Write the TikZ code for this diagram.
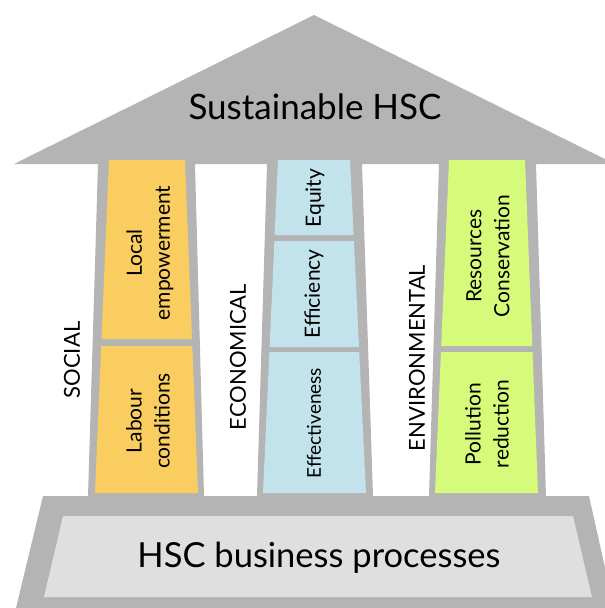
\documentclass[tikz,border=0pt]{standalone}
\usepackage{fontspec}
\setmainfont{Lato}
\definecolor{roofgray}{RGB}{180,180,180}
\definecolor{basegray}{RGB}{223,223,223}
\definecolor{socialorange}{RGB}{250,205,96}
\definecolor{ecoblue}{RGB}{195,227,236}
\definecolor{envgreen}{RGB}{214,250,122}
\tikzset{
  frame/.style={fill=roofgray},
  pillartext/.style={rotate=90, align=center, inner sep=0pt, font=\fontsize{21}{28}\selectfont},
  sidetext/.style={rotate=90, inner sep=0pt, font=\fontsize{22}{26}\selectfont},
}

\begin{document}
\begin{tikzpicture}[x=1pt, y=-1pt]
      \useasboundingbox (0,0) rectangle (605,608);
      % roof
      \fill[roofgray] (14,164) -- (314,15) -- (615,164) -- cycle;
      \node[font=\fontsize{35}{40}\selectfont] (roof) at (315,107) {Sustainable HSC};
      % columns
      \fill[frame] (98,164) -- (195,164) -- (204,496) -- (88,496) -- cycle;
      \fill[frame] (267,164) -- (362,164) -- (373,496) -- (257,496) -- cycle;
      \fill[frame] (439,164) -- (536,164) -- (546,496) -- (429,496) -- cycle;
      % pillars
      \fill[socialorange] (109,160) -- (185,160) -- (192,339) -- (101.5,339) -- cycle;
      \fill[socialorange] (101.2,346) -- (192.3,346) -- (198,493) -- (95,493) -- cycle;
      \fill[ecoblue] (278,160) -- (350,160) -- (353.6,235) -- (274.6,235) -- cycle;
      \fill[ecoblue] (274.4,241) -- (353.9,241) -- (359,347) -- (269.6,347) -- cycle;
      \fill[ecoblue] (269.4,352) -- (359.2,352) -- (366,493) -- (263,493) -- cycle;
      \fill[envgreen] (449,160) -- (525,160) -- (532.3,346) -- (441.2,346) -- cycle;
      \fill[envgreen] (440.9,352) -- (532.5,352) -- (538,493) -- (435,493) -- cycle;
      \node[pillartext] (local) at (150,253) {Local\\empowerment};
      \node[pillartext] (labour) at (148,421) {Labour\\conditions};
      \node[pillartext] (equity) at (315,198) {Equity};
      \node[pillartext] (efficiency) at (314,294) {Efficiency};
      \node[pillartext, font=\fontsize{19}{24}\selectfont] (effectiveness) at (314,423) {Effectiveness};
      \node[pillartext] (resources) at (488,256) {Resources\\Conservation};
      \node[pillartext] (pollution) at (487,424) {Pollution\\reduction};
      \node[sidetext] (social) at (72,360) {SOCIAL};
      \node[sidetext] (economical) at (238,357) {ECONOMICAL};
      \node[sidetext] (environmental) at (417,358) {ENVIRONMENTAL};
      % base
      \fill[frame] (43,496) -- (589,496) -- (614,608) -- (16,608) -- cycle;
      \fill[basegray] (63,516) -- (573,516) -- (592,597) -- (44,597) -- cycle;
      \node[font=\fontsize{34.5}{40}\selectfont] (base) at (319,558) {HSC business processes};
\end{tikzpicture}
\end{document}
